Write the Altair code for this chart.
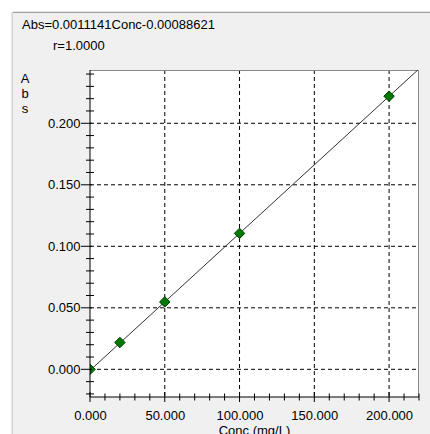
import altair as alt
import pandas as pd

# ---- data ----
conc = [0, 20, 50, 100, 200]
absorb = [0.0, 0.0218, 0.0548, 0.1105, 0.2220]
fit_conc = [0, 220]
fit_abs = [-0.00089, 0.24422]
x_major = [0, 50, 100, 150, 200]
x_minor = [10, 20, 30, 40, 60, 70, 80, 90, 110, 120, 130, 140, 160, 170, 180, 190, 210, 220]
y_major = [0.0, 0.05, 0.10, 0.15, 0.20]
y_minor = [-0.02, -0.01, 0.01, 0.02, 0.03, 0.04, 0.06, 0.07, 0.08, 0.09, 0.11, 0.12,
           0.13, 0.14, 0.16, 0.17, 0.18, 0.19, 0.21, 0.22, 0.23, 0.24]
x_grid = [50, 100, 150, 200]
y_grid = [0.0, 0.05, 0.10, 0.15, 0.20]
equation = "Abs=0.0011141Conc-0.00088621"
rvalue = "r=1.0000"
y_title = ["A", "b", "s"]
x_title = "Conc (mg/L)"

X_DOMAIN = [0, 220]
Y_DOMAIN = [-0.0225, 0.2433]
W, H = 329, 327
FONT = "Liberation Sans"

xscale = alt.Scale(domain=X_DOMAIN, nice=False, zero=False)
yscale = alt.Scale(domain=Y_DOMAIN, nice=False, zero=False)
xaxis = alt.Axis(values=x_major, format=".3f", ticks=False, domain=False, grid=False,
                 labelPadding=12, title=None, labelFlush=False, labelOverlap=False,
                 labelFontSize=13, labelFont=FONT, labelColor="black", zindex=2)
yaxis = alt.Axis(values=y_major, format=".3f", ticks=False, domain=False, grid=False,
                 labelPadding=10, title=None, labelFlush=False, labelOverlap=False,
                 labelFontSize=13, labelFont=FONT, labelColor="black", zindex=2)


def X(field="x"):
    return alt.X(f"{field}:Q", scale=xscale, axis=xaxis)


def Y(field="y"):
    return alt.Y(f"{field}:Q", scale=yscale, axis=yaxis)


one = alt.Data(values=[{"k": 0}])

pts = pd.DataFrame({"x": conc, "y": absorb})
fit = pd.DataFrame({"x": fit_conc, "y": fit_abs})
xmaj = pd.DataFrame({"x": x_major})
xmin = pd.DataFrame({"x": x_minor})
ymaj = pd.DataFrame({"y": y_major})
ymin = pd.DataFrame({"y": y_minor})
xg = pd.DataFrame({"x": x_grid})
yg = pd.DataFrame({"y": y_grid})

# panel background and frame
panel = alt.Chart(one).mark_rect(fill="#F0F0F0").encode(
    x=alt.value(-77), x2=alt.value(340), y=alt.value(-58), y2=alt.value(364))
shadow1 = alt.Chart(one).mark_rule(color="#d2d2d2", strokeWidth=1).encode(
    x=alt.value(-77.5), y=alt.value(-58), y2=alt.value(364))
shadow2 = alt.Chart(one).mark_rule(color="#e8e8e8", strokeWidth=1).encode(
    x=alt.value(-78.5), y=alt.value(-58), y2=alt.value(364))
topline = alt.Chart(one).mark_rule(color="#a0a0a0", strokeWidth=1).encode(
    x=alt.value(-77), x2=alt.value(340), y=alt.value(-57.5))
topshadow = alt.Chart(one).mark_rule(color="#e6e6e6", strokeWidth=1).encode(
    x=alt.value(-77), x2=alt.value(340), y=alt.value(-58.5))
plotbg = alt.Chart(one).mark_rect(fill="white").encode(
    x=alt.value(0), x2=alt.value(W), y=alt.value(0), y2=alt.value(H))

# grid
gx = alt.Chart(xg).mark_rule(color="black", strokeDash=[4, 3], strokeWidth=1).encode(
    x=X(), y=alt.value(0), y2=alt.value(H))
gy = alt.Chart(yg).mark_rule(color="black", strokeDash=[4, 3], strokeWidth=1).encode(
    y=Y(), x=alt.value(0), x2=alt.value(W))

# plot border (top/right grey) and axis lines (black)
btop = alt.Chart(one).mark_rule(color="#8a8a8a").encode(
    x=alt.value(0), x2=alt.value(W), y=alt.value(0.5))
bright = alt.Chart(one).mark_rule(color="#8a8a8a").encode(
    x=alt.value(W - 0.5), y=alt.value(0), y2=alt.value(H))
axl = alt.Chart(one).mark_rule(color="black").encode(
    x=alt.value(0), y=alt.value(0), y2=alt.value(H))
axb = alt.Chart(one).mark_rule(color="black").encode(
    x=alt.value(0), x2=alt.value(W), y=alt.value(H))

# ticks
txmaj = alt.Chart(xmaj).mark_rule(color="black").encode(
    x=X(), y=alt.value(H - 5), y2=alt.value(H + 5))
txmin = alt.Chart(xmin).mark_rule(color="black").encode(
    x=X(), y=alt.value(H - 3.5), y2=alt.value(H + 3.5))
tymaj = alt.Chart(ymaj).mark_rule(color="black").encode(
    y=Y(), x=alt.value(-9), x2=alt.value(2))
tymin = alt.Chart(ymin).mark_rule(color="black").encode(
    y=Y(), x=alt.value(-4), x2=alt.value(4))

# fit line and points
line = alt.Chart(fit).mark_line(color="#333333", strokeWidth=1, clip=True).encode(
    x=X(), y=Y())
points = alt.Chart(pts).mark_point(shape="diamond", filled=True, fill="#007a00",
                                   stroke="#003800", strokeWidth=1, opacity=1,
                                   size=110, clip=True).encode(x=X(), y=Y())

# texts
def txt(s, x, y, align="left"):
    return alt.Chart(one).mark_text(text=s, font=FONT, fontSize=13, color="black",
                                    align=align, baseline="alphabetic").encode(
        x=alt.value(x), y=alt.value(y))

t_eq = txt(equation, -68, -41)
t_r = txt(rvalue, -37, -20.5)
t_a = txt(y_title[0], -65, 13, "center")
t_b = txt(y_title[1], -65, 28, "center")
t_s = txt(y_title[2], -65, 43, "center")
t_x = txt(x_title, 164.5, 365, "center")

chart = alt.layer(
    panel, shadow2, shadow1, topshadow, topline, plotbg, gx, gy, btop, bright,
    line, points, axl, axb, txmaj, txmin, tymaj, tymin,
    t_eq, t_r, t_a, t_b, t_s, t_x,
).properties(
    width=W, height=H,
    autosize=alt.AutoSizeParams(type="none"),
    padding={"left": 90, "top": 70, "right": 11, "bottom": 37},
    background="white",
).configure_view(stroke=None)

chart.save("out.html", embed_options={"renderer": "svg", "actions": False})
